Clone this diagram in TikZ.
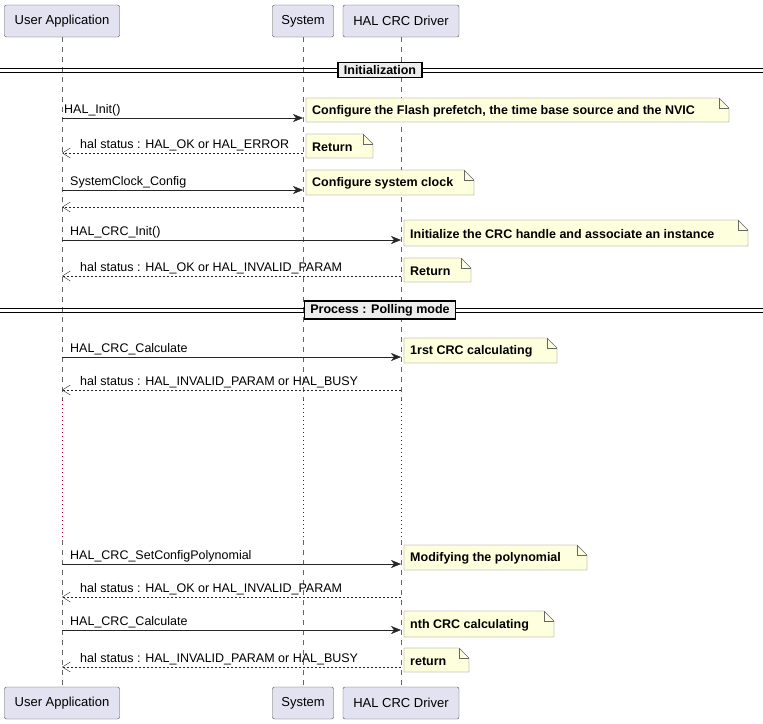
\documentclass[tikz,border=0pt]{standalone}
\usepackage{fontspec}
\setmainfont{Liberation Sans}
\usetikzlibrary{arrows.meta}
\definecolor{partfill}{HTML}{E2E2F0}
\definecolor{notefill}{HTML}{FEFFDD}
\definecolor{delaycol}{HTML}{A80036}
\tikzset{
  part/.style={draw=black!70,fill=partfill,rounded corners=2pt,minimum height=32pt,
    inner xsep=6pt,font=\fontsize{13}{15}\selectfont},
  life/.style={draw=black!60,dash pattern=on 5pt off 5pt},
  delay/.style={draw=delaycol,dash pattern=on 1pt off 3pt},
  call/.style={draw=black!85,-{Stealth[length=10pt,width=8pt,inset=3pt]}},
  reply/.style={draw=black!85,dash pattern=on 2pt off 2pt,-{Straight Barb[length=8pt,width=10pt]}},
  msglabel/.style={font=\fontsize{12.5}{14}\selectfont,anchor=south west,inner sep=2pt},
  notebox/.style={draw=black!60,fill=notefill},
  notetext/.style={font=\bfseries\fontsize{12.5}{14}\selectfont,anchor=west,inner sep=0pt},
  divbox/.style={draw=black,line width=1.5pt,fill=black!7,font=\bfseries\fontsize{12.5}{14}\selectfont,
    inner xsep=6pt,inner ysep=3pt}
}
% note with folded corner: x1, y1, x2, y2, text
\newcommand\crcnote[5]{%
  \draw[notebox] (#1,#2) -- ({#3-10},#2) -- (#3,{#2+10}) -- (#3,#4) -- (#1,#4) -- cycle;
  \draw[notebox,fill=none] ({#3-10},#2) -- ({#3-10},{#2+10}) -- (#3,{#2+10});
  \node[notetext] at ({#1+6},{(#2+#4)/2+1}) {#5};}
% divider: y, text
\newcommand\crcdivider[2]{%
  \draw (0,{#1-2}) -- (763,{#1-2}) (0,{#1+2}) -- (763,{#1+2});
  \node[divbox] at (380,#1) {#2};}
\begin{document}
\begin{tikzpicture}[x=1pt,y=-1pt]
\useasboundingbox (0,0) rectangle (763,723);
%Lifelines
\coordinate (uat) at (62,37); \coordinate (uad) at (62,400); \coordinate (uae) at (62,540); \coordinate (uab) at (62,687);
\coordinate (syt) at (303,37); \coordinate (syd) at (303,400); \coordinate (sye) at (303,540); \coordinate (syb) at (303,687);
\coordinate (hat) at (401,37); \coordinate (had) at (401,400); \coordinate (hae) at (401,540); \coordinate (hab) at (401,687);
\foreach \p in {ua,sy,ha}{
  \draw[life] (\p t) -- (\p d);
  \draw[delay] (\p d) -- (\p e);
  \draw[life] (\p e) -- (\p b);
}
%Participants
\node[part,minimum width=115pt] (ua) at (62,21) {User Application};
\node[part,minimum width=61pt] (sy) at (303,21) {System};
\node[part,minimum width=116pt] (ha) at (401,21) {HAL CRC Driver};
\node[part,minimum width=115pt] (ua2) at (62,703) {User Application};
\node[part,minimum width=61pt] (sy2) at (303,703) {System};
\node[part,minimum width=116pt] (ha2) at (401,703) {HAL CRC Driver};
%Initialization
\crcdivider{70}{Initialization}
\coordinate (u1) at (62,118); \coordinate (s1) at (303,118);
\draw[call] (u1) -- (s1) node[msglabel,pos=0] at ([xshift=6pt]u1) {HAL\_Init()};
\crcnote{306}{98}{729}{122}{Configure the Flash prefetch, the time base source and the NVIC}
\coordinate (u2) at (62,153); \coordinate (s2) at (303,153);
\draw[reply] (s2) -- (u2);
\node[msglabel] at ([xshift=16pt]u2) {hal status : HAL\_OK or HAL\_ERROR};
\crcnote{306}{134}{373}{158}{Return}
\coordinate (u3) at (62,190); \coordinate (s3) at (303,190);
\draw[call] (u3) -- (s3);
\node[msglabel] at ([xshift=6pt]u3) {SystemClock\_Config};
\crcnote{306}{170}{474}{195}{Configure system clock}
\coordinate (u4) at (62,207); \coordinate (s4) at (303,207);
\draw[reply] (s4) -- (u4);
\coordinate (u5) at (62,240); \coordinate (h5) at (401,240);
\draw[call] (u5) -- (h5);
\node[msglabel] at ([xshift=6pt]u5) {HAL\_CRC\_Init()};
\crcnote{404}{220}{748}{246}{Initialize the CRC handle and associate an instance}
\coordinate (u6) at (62,276); \coordinate (h6) at (401,276);
\draw[reply] (h6) -- (u6);
\node[msglabel] at ([xshift=16pt]u6) {hal status : HAL\_OK or HAL\_INVALID\_PARAM};
\crcnote{404}{258}{471}{282}{Return}
%Process
\crcdivider{310}{Process : Polling mode}
\coordinate (u7) at (62,357); \coordinate (h7) at (401,357);
\draw[call] (u7) -- (h7);
\node[msglabel] at ([xshift=6pt]u7) {HAL\_CRC\_Calculate};
\crcnote{404}{338}{557}{363}{1rst CRC calculating}
\coordinate (u8) at (62,390); \coordinate (h8) at (401,390);
\draw[reply] (h8) -- (u8);
\node[msglabel] at ([xshift=16pt]u8) {hal status : HAL\_INVALID\_PARAM or HAL\_BUSY};
\coordinate (u9) at (62,564); \coordinate (h9) at (401,564);
\draw[call] (u9) -- (h9);
\node[msglabel] at ([xshift=6pt]u9) {HAL\_CRC\_SetConfigPolynomial};
\crcnote{404}{545}{587}{570}{Modifying the polynomial}
\coordinate (u10) at (62,597); \coordinate (h10) at (401,597);
\draw[reply] (h10) -- (u10);
\node[msglabel] at ([xshift=16pt]u10) {hal status : HAL\_OK or HAL\_INVALID\_PARAM};
\coordinate (u11) at (62,630); \coordinate (h11) at (401,630);
\draw[call] (u11) -- (h11);
\node[msglabel] at ([xshift=6pt]u11) {HAL\_CRC\_Calculate};
\crcnote{404}{611}{554}{637}{nth CRC calculating}
\coordinate (u12) at (62,667); \coordinate (h12) at (401,667);
\draw[reply] (h12) -- (u12);
\node[msglabel] at ([xshift=16pt]u12) {hal status : HAL\_INVALID\_PARAM or HAL\_BUSY};
\crcnote{404}{648}{469}{672}{return}
\end{tikzpicture}
\end{document}
